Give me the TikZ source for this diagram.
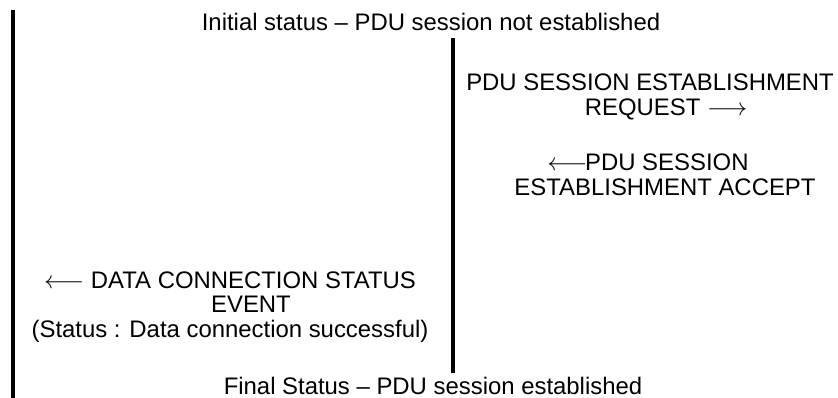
\documentclass[tikz,border=0pt]{standalone}
\usepackage{fontspec}
\setmainfont{Liberation Sans}
\begin{document}
\begin{tikzpicture}[x=1pt,y=-1pt,
  txt/.style={inner sep=0pt,align=center,font=\fontsize{23.9}{24.8}\selectfont},
  lifeline/.style={line width=3.5pt}]
\useasboundingbox (0,0) rectangle (838,398);
\coordinate (ltop) at (13,10);
\coordinate (lbot) at (13,398);
\coordinate (mtop) at (453,38);
\coordinate (mbot) at (453,373);
\draw[lifeline] (ltop) -- (lbot);
\draw[lifeline] (mtop) -- (mbot);
\node[txt] (init) at (431,22) {Initial status -- PDU session not established};
\node[txt] (req) at (650,97) {PDU SESSION ESTABLISHMENT\\ \hspace*{32pt}REQUEST $\longrightarrow$};
\node[txt] (acc) at (665,175) {$\longleftarrow$\hspace{-0.1em}PDU SESSION\hspace*{34pt}\\ESTABLISHMENT ACCEPT};
\node[txt] (dcs) at (230,307) {$\longleftarrow$ DATA CONNECTION STATUS\\ \hspace*{42pt}EVENT\\(Status : Data connection successful)};
\node[txt] (fin) at (433,386) {Final Status -- PDU session established};
\end{tikzpicture}
\end{document}
